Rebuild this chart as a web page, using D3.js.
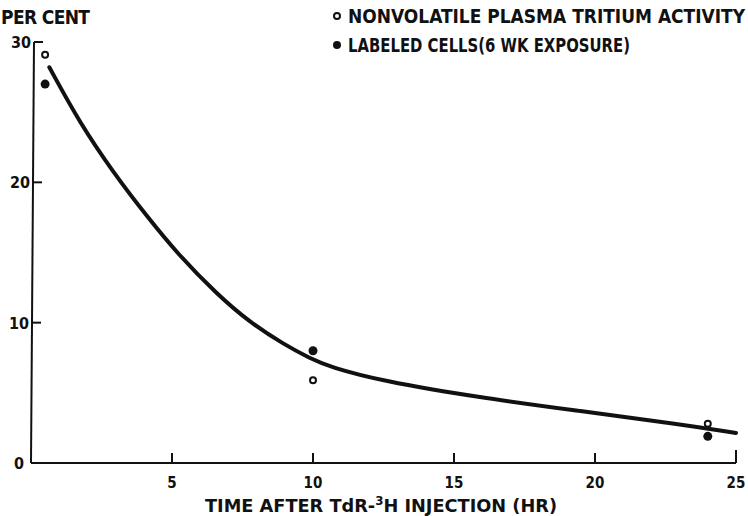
<!DOCTYPE html>
<html>
<head>
<meta charset="utf-8">
<script src="https://cdn.jsdelivr.net/npm/d3@7"></script>
<style>
  body { margin: 0; background: #fff; }
  svg { display: block; }
  text { font-family: "DejaVu Sans Condensed", "DejaVu Sans", sans-serif; font-weight: bold; fill: #111; }
</style>
</head>
<body>
<div id="chart"></div>
<script>
// data
const xTicks = [5, 10, 15, 20, 25];
const yTicks = [0, 10, 20, 30];

const plasmaX = [0.5, 10, 24];
const plasmaY = [29.1, 5.9, 2.8];

const cellsX = [0.5, 10, 24];
const cellsY = [27.0, 8.0, 1.9];

// smooth fitted curve (hand drawn in original), traced points
const curveX = [0.65, 0.65, 1.74, 2.92, 4.1, 5.2, 6.58, 7.77, 8.95, 9.9, 10.6, 12.4, 15.9, 19.5, 23, 25, 25];
const curveY = [28.2, 28.2, 24.2, 20.7, 17.6, 14.9, 12.05, 10.0, 8.48, 7.45, 6.85, 5.86, 4.66, 3.7, 2.76, 2.14, 2.14];

const W = 748, H = 516;
const margin = { top: 42, right: 12, bottom: 53, left: 31 };

const svg = d3.select("#chart").append("svg")
  .attr("width", W).attr("height", H);

const x = d3.scaleLinear().domain([0, 25]).range([margin.left, W - margin.right]);
const y = d3.scaleLinear().domain([0, 30]).range([H - margin.bottom, margin.top]);

const ink = "#111";

// axes lines (the y axis leans a little in the original)
svg.append("line")
  .attr("x1", x(0) + 3).attr("x2", x(0))
  .attr("y1", y(30)).attr("y2", y(0))
  .attr("stroke", ink).attr("stroke-width", 2);
svg.append("line")
  .attr("x1", x(0)).attr("x2", x(25))
  .attr("y1", y(0)).attr("y2", y(0))
  .attr("stroke", ink).attr("stroke-width", 2);

// x ticks (pointing up)
svg.append("g").selectAll("line")
  .data(xTicks)
  .join("line")
  .attr("x1", d => x(d)).attr("x2", d => x(d))
  .attr("y1", y(0)).attr("y2", d => y(0) - (d === 25 ? 13 : 10))
  .attr("stroke", ink).attr("stroke-width", 2);

svg.append("g").selectAll("text")
  .data(xTicks)
  .join("text")
  .attr("x", d => x(d))
  .attr("y", y(0) + 25)
  .attr("text-anchor", "middle")
  .style("font-size", "15px")
  .text(d => d);

// y ticks (pointing right)
const yAxisX = d => x(0) + 3 * d / 30;
svg.append("g").selectAll("line")
  .data(yTicks.filter(d => d > 0))
  .join("line")
  .attr("x1", d => yAxisX(d)).attr("x2", d => yAxisX(d) + 9)
  .attr("y1", d => y(d)).attr("y2", d => y(d))
  .attr("stroke", ink).attr("stroke-width", 2);

svg.append("g").selectAll("text")
  .data(yTicks)
  .join("text")
  .attr("x", d => d === 0 ? x(0) - 7 : yAxisX(d) - 3)
  .attr("y", d => y(d) + 6)
  .attr("text-anchor", "end")
  .style("font-size", "16px")
  .text(d => d);

// fitted curve
const line = d3.line()
  .x(d => x(d[0]))
  .y(d => y(d[1]))
  .curve(d3.curveBasis);

svg.append("path")
  .datum(d3.zip(curveX, curveY))
  .attr("fill", "none")
  .attr("stroke", ink)
  .attr("stroke-width", 4)
  .attr("stroke-linecap", "round")
  .attr("d", line);

// points
svg.append("g").selectAll("circle")
  .data(d3.zip(plasmaX, plasmaY))
  .join("circle")
  .attr("cx", d => x(d[0])).attr("cy", d => y(d[1]))
  .attr("r", 3)
  .attr("fill", "#fff").attr("stroke", ink).attr("stroke-width", 2);

svg.append("g").selectAll("circle")
  .data(d3.zip(cellsX, cellsY))
  .join("circle")
  .attr("cx", d => x(d[0])).attr("cy", d => y(d[1]))
  .attr("r", 4.5)
  .attr("fill", ink);

// y axis title
svg.append("text")
  .attr("x", 1).attr("y", 24)
  .style("font-size", "19px")
  .attr("textLength", 89)
  .text("PER CENT");

// legend
svg.append("circle").attr("cx", 337).attr("cy", 16).attr("r", 3)
  .attr("fill", "#fff").attr("stroke", ink).attr("stroke-width", 2);
svg.append("text").attr("x", 348).attr("y", 23)
  .style("font-size", "19px").attr("textLength", 397)
  .attr("lengthAdjust", "spacingAndGlyphs")
  .text("NONVOLATILE PLASMA TRITIUM ACTIVITY");

svg.append("circle").attr("cx", 337).attr("cy", 45).attr("r", 4)
  .attr("fill", ink);
svg.append("text").attr("x", 348).attr("y", 52)
  .style("font-size", "19px").attr("textLength", 282)
  .attr("lengthAdjust", "spacingAndGlyphs")
  .text("LABELED CELLS(6 WK EXPOSURE)");

// x axis title
const xt = svg.append("text")
  .attr("x", 205).attr("y", 512)
  .style("font-size", "18px")
  .attr("textLength", 352)
  .attr("lengthAdjust", "spacingAndGlyphs");
xt.append("tspan").text("TIME AFTER  TdR-");
xt.append("tspan").attr("dy", -7).style("font-size", "12px").text("3");
xt.append("tspan").attr("dy", 7).text("H INJECTION (HR)");
</script>
</body>
</html>
